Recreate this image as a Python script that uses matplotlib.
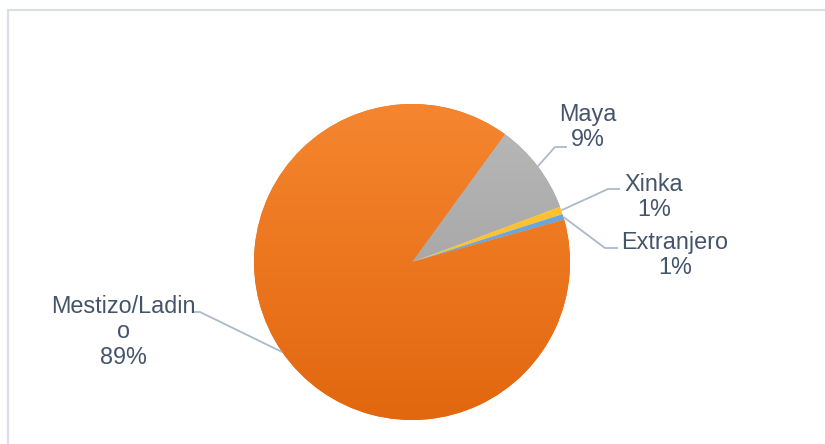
import numpy as np
import matplotlib
matplotlib.use("Agg")
import matplotlib.pyplot as plt
from matplotlib.patches import Rectangle

# data (percent of population)
groups = ["Maya", "Xinka", "Extranjero", "Mestizo/Ladino"]
shares = [9.3, 0.8, 0.6, 89.3]
label_text = ["Maya", "Xinka", "Extranjero", "Mestizo/Ladin\no"]

W, H = 825, 444
CX, CY, R = 412, H - 262, 158

TEXT_COLOR = "#44546A"
LINE_COLOR = "#ADB9CA"

plt.rcParams['font.family'] = ['Liberation Sans', 'DejaVu Sans']

fig = plt.figure(figsize=(W / 100, H / 100), dpi=100)
ax = fig.add_axes([0, 0, 1, 1])

wedges, _ = ax.pie(shares, startangle=54, counterclock=False, center=(CX, CY),
                   radius=R, colors=["#A8A8A8", "#FFC12E", "#6AA5DC", "#EC7220"],
                   wedgeprops=dict(linewidth=0), frame=True)

# vertical gradients for the two big slices, like the Excel fill
def gradient_fill(wedge, top, bottom):
    top = np.array(matplotlib.colors.to_rgb(top))
    bottom = np.array(matplotlib.colors.to_rgb(bottom))
    t = np.linspace(0, 1, 256)[:, None]
    img = top * (1 - t[..., None]) + bottom * t[..., None]
    im = ax.imshow(img, extent=(CX - R, CX + R, CY - R, CY + R), origin="upper",
                   aspect="auto", zorder=wedge.get_zorder() + 0.1)
    im.set_clip_path(wedge)

gradient_fill(wedges[0], "#B9B9B9", "#999999")
gradient_fill(wedges[3], "#F5862F", "#E2670F")

# label layout: (text centre, elbow point, end of horizontal tick) in image pixels
label_pos = [(588, 127), (654, 197), (675, 255), (123, 332)]
elbows = [((555, 147), (567, 147)),
          ((608, 189), (620, 189)),
          ((605, 248), (618, 248)),
          ((200, 312), (192, 312))]

for w, name, val, (tx, ty), (elb, end) in zip(wedges, label_text, shares, label_pos, elbows):
    ang = np.deg2rad((w.theta1 + w.theta2) / 2)
    sx, sy = CX + R * np.cos(ang), CY + R * np.sin(ang)
    ax.plot([sx, elb[0], end[0]], [sy, H - elb[1], H - end[1]],
            color=LINE_COLOR, lw=1.3, zorder=5, solid_capstyle="butt")
    ax.text(tx, H - ty, f"{name}\n{round(val)}%", ha="center", va="center",
            fontsize=16.8, color=TEXT_COLOR, linespacing=1.15, zorder=6)

# chart area border
ax.add_patch(Rectangle((8, -20), W + 20, H - 10 + 20, fill=False,
                       edgecolor="#D9DEE4", lw=1.5, zorder=0))

ax.set_xlim(0, W)
ax.set_ylim(0, H)
ax.set_aspect("auto")
ax.axis("off")

fig.savefig("out.png", dpi=100, facecolor="white")
